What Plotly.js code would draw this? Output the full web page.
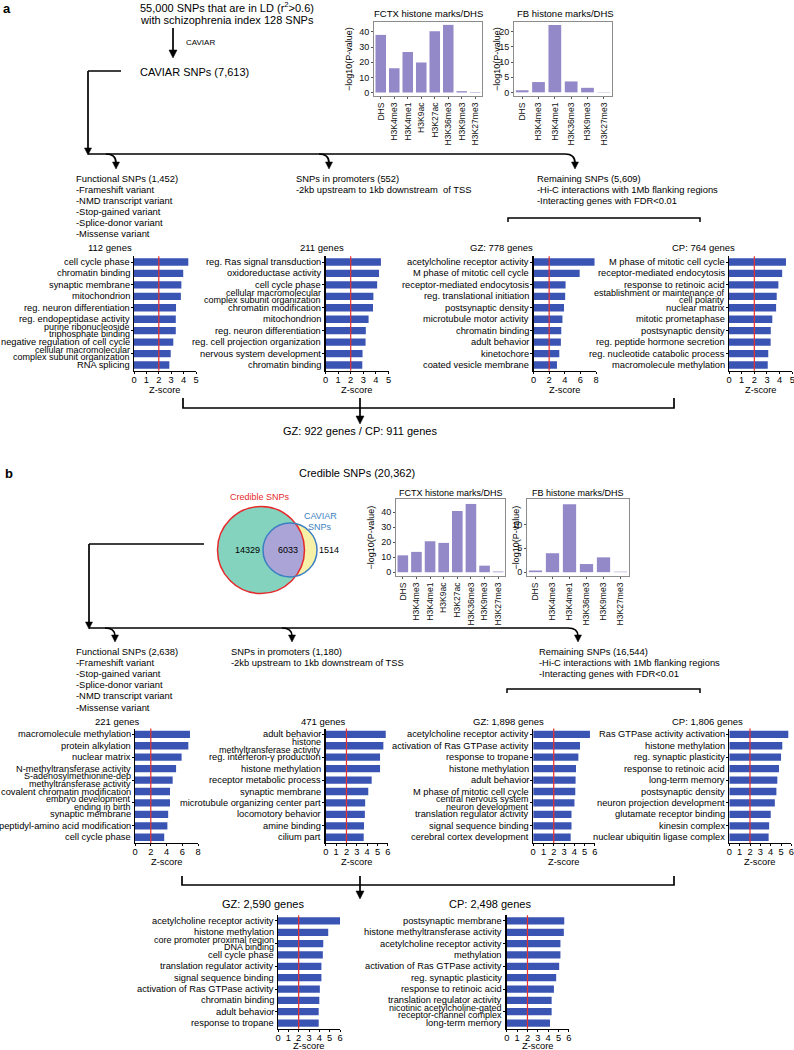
<!DOCTYPE html>
<html><head><meta charset="utf-8">
<script src="https://cdn.plot.ly/plotly-3.0.1.min.js"></script>
<style>html,body{margin:0;padding:0;background:#fff}#chart{width:794px;height:1050px}</style>
</head><body><div id="chart"></div>
<script>
// ---------------- DATA ----------------
const fctxMarks = ['DHS','H3K4me3','H3K4me1','H3K9ac','H3K27ac','H3K36me3','H3K9me3','H3K27me3'];
const fbMarks = ['DHS','H3K4me3','H3K4me1','H3K36me3','H3K9me3','H3K27me3'];
const caviarFctxLogP = [38, 16, 26.7, 19.8, 40.4, 44.6, 0.9, 0.3];
const caviarFbLogP = [0.7, 3.4, 22.2, 3.6, 1.5, 0.1];
const credibleFctxLogP = [11.3, 13.6, 20.7, 19.6, 40.9, 45.6, 4.4, 0.5];
const credibleFbLogP = [0.35, 3.96, 14.2, 1.7, 3.1, 0.1];

const caviarFunctionalTerms = ['cell cycle phase','chromatin binding','synaptic membrane','mitochondrion','reg. neuron differentiation','reg. endopeptidase activity','purine ribonucleoside<br>triphosphate binding','negative regulation of cell cycle','cellular macromolecular<br>complex subunit organization','RNA splicing'];
const caviarFunctionalZ = [4.38, 3.97, 3.82, 3.78, 3.39, 3.37, 3.37, 3.17, 2.96, 2.85];

const caviarPromoterTerms = ['reg. Ras signal transduction','oxidoreductase activity','cell cycle phase','cellular macromolecular<br>complex subunit organization','chromatin modification','mitochondrion','reg. neuron differentiation','reg. cell projection organization','nervous system development','chromatin binding'];
const caviarPromoterZ = [4.4, 4.25, 4.1, 3.8, 3.77, 3.42, 3.2, 3.18, 2.94, 2.92];

const caviarGzTerms = ['acetylcholine receptor activity','M phase of mitotic cell cycle','receptor-mediated endocytosis','reg. translational initiation','postsynaptic density','microtubule motor activity','chromatin binding','adult behavior','kinetochore','coated vesicle membrane'];
const caviarGzZ = [7.8, 5.9, 4.1, 4.05, 3.9, 3.7, 3.55, 3.5, 3.3, 3.0];

const caviarCpTerms = ['M phase of mitotic cell cycle','receptor-mediated endocytosis','response to retinoic acid','establishment or maintenance of<br>cell polarity','nuclear matrix','mitotic prometaphase','postsynaptic density','reg. peptide hormone secretion','reg. nucleotide catabolic process','macromolecule methylation'];
const caviarCpZ = [4.5, 4.2, 3.9, 3.77, 3.72, 3.42, 3.3, 3.29, 3.1, 3.06];

const credibleFunctionalTerms = ['macromolecule methylation','protein alkylation','nuclear matrix','N-methyltransferase activity','S-adenosylmethionine-dep<br>methyltransferase activity','covalent chromatin modification','embryo development<br>ending in birth','synaptic membrane','peptidyl-amino acid modification','cell cycle phase'];
const credibleFunctionalZ = [6.96, 6.75, 5.9, 5.2, 4.77, 4.43, 4.43, 4.2, 4.1, 3.7];

const crediblePromoterTerms = ['adult behavior','histone<br>methyltransferase activity','reg. interferon-γ production','histone methylation','receptor metabolic process','synaptic membrane','microtubule organizing center part','locomotory behavior','amine binding','cilium part'];
const crediblePromoterZ = [5.8, 5.57, 5.25, 5.25, 4.44, 4.11, 3.81, 3.78, 3.7, 3.67];

const credibleGzTerms = ['acetylcholine receptor activity','activation of Ras GTPase activity','response to tropane','histone methylation','adult behavior','M phase of mitotic cell cycle','central nervous system<br>neuron development','translation regulator activity','signal sequence binding','cerebral cortex development'];
const credibleGzZ = [5.53, 4.56, 4.4, 4.17, 4.13, 4.1, 4.02, 3.73, 3.73, 3.65];

const credibleCpTerms = ['Ras GTPase activity activation','histone methylation','reg. synaptic plasticity','response to retinoic acid','long-term memory','postsynaptic density','neuron projection development','glutamate receptor binding','kinesin complex','nuclear ubiquitin ligase complex'];
const credibleCpZ = [5.7, 5.12, 5.0, 4.8, 4.64, 4.55, 4.4, 4.0, 3.85, 3.8];

const combinedGzTerms = ['acetylcholine receptor activity','histone methylation','core promoter proximal region<br>DNA binding','cell cycle phase','translation regulator activity','signal sequence binding','activation of Ras GTPase activity','chromatin binding','adult behavior','response to tropane'];
const combinedGzZ = [6.05, 4.86, 4.38, 4.34, 4.2, 4.2, 4.05, 4.0, 3.94, 3.94];

const combinedCpTerms = ['postsynaptic membrane','histone methyltransferase activity','acetylcholine receptor activity','methylation','activation of Ras GTPase activity','reg. synaptic plasticity','response to retinoic acid','translation regulator activity','nicotinic acetylcholine-gated<br>receptor-channel complex','long-term memory'];
const combinedCpZ = [5.56, 5.52, 5.19, 5.19, 5.07, 4.78, 4.56, 4.34, 4.34, 4.18];

const zThreshold = 2;
const vennCounts = ['14329', '6033', '1514'];

// ---------------- LAYOUT HELPERS ----------------
const W = 794, H = 1050;
const px = v => v / W;
const py = v => 1 - v / H;
const FONT = 'Liberation Sans, Arial, Helvetica, sans-serif';
const BAR_BLUE = '#3a54b4';
const HIST_PURPLE = '#9489c8';
const RED = '#e8302c';

const data = [], shapes = [], annotations = [];
const layout = {
  width: W, height: H, margin: {l:0, r:0, t:0, b:0}, showlegend: false,
  paper_bgcolor: '#fff', plot_bgcolor: 'rgba(0,0,0,0)',
  font: {family: FONT, size: 9, color: '#000'},
  shapes, annotations
};

let axisIndex = 0;
function nextAxes() {
  axisIndex++;
  const s = axisIndex === 1 ? '' : String(axisIndex);
  return {xa: 'xaxis' + s, ya: 'yaxis' + s, x: 'x' + s, y: 'y' + s};
}

function txt(text, x, y, o = {}) {
  annotations.push({
    text, x: px(x), y: py(y), xref: 'paper', yref: 'paper', showarrow: false,
    xanchor: o.anchor || 'center', yanchor: 'middle', textangle: o.angle || 0,
    font: {size: o.size || 9.4, color: o.color || '#000', family: FONT},
    borderpad: 0
  });
}

const LABEL_LINE = 7.5;
function hPanel(p) {
  const a = nextAxes();
  layout[a.xa] = {
    domain: [px(p.left), px(p.right)], range: [0, p.xmax], dtick: p.dtick, tick0: 0,
    showline: true, linecolor: '#000', linewidth: 1.2, ticks: 'outside', ticklen: 2,
    tickwidth: 1, tickcolor: '#000', tickfont: {size: 9.3}, showgrid: false,
    zeroline: false, fixedrange: true, anchor: a.y, ticklabeloverflow: 'allow',
    ticklabelstandoff: -2
  };
  layout[a.ya] = {
    domain: [py(p.bottom), py(p.top)], type: 'category', categoryorder: 'array',
    categoryarray: p.terms, range: [p.terms.length - 0.5, -0.5],
    showline: true, linecolor: '#000', linewidth: 1.5, ticks: 'outside', ticklen: 2,
    tickcolor: '#000', showticklabels: false, showgrid: false, zeroline: false,
    fixedrange: true, anchor: a.x
  };
  data.push({type: 'bar', orientation: 'h', x: p.z, y: p.terms, xaxis: a.x, yaxis: a.y,
    width: 0.64, marker: {color: BAR_BLUE, line: {width: 0}}});
  // category labels on the category axis (tight line spacing for 2-line labels)
  p.terms.forEach((term, i) => {
    const lines = term.split('<br>');
    lines.forEach((ln, j) => {
      annotations.push({
        text: ln, xref: a.x + ' domain', x: 0, xanchor: 'right', xshift: -3.5,
        yref: a.y, y: i, yanchor: 'middle',
        yshift: ((lines.length - 1) / 2 - j) * LABEL_LINE,
        showarrow: false, borderpad: 0,
        font: {size: lines.length > 1 ? 9.0 : 9.3, color: '#000', family: FONT}
      });
    });
  });
  shapes.push({type: 'line', xref: a.x, yref: a.y + ' domain', x0: zThreshold, x1: zThreshold,
    y0: 0, y1: 1, line: {color: RED, width: 1.2}});
  txt('Z-score', (p.left + p.right) / 2, p.zy, {size: 9.3});
  txt(p.title, p.tx, p.ty, {size: p.tsize || 9.5});
}

function vPanel(p) {
  const a = nextAxes();
  layout[a.xa] = {
    domain: [px(p.left), px(p.right)], type: 'category', tickangle: -90,
    showline: true, mirror: true, linecolor: '#8c8c8c', linewidth: 1,
    ticks: 'outside', ticklen: 2, tickcolor: '#555', tickfont: {size: 8.6, color: '#111'},
    showgrid: false, zeroline: false, fixedrange: true, anchor: a.y
  };
  layout[a.ya] = {
    domain: [py(p.bottom), py(p.top)], range: p.yrange, tickvals: p.tickvals,
    showline: true, mirror: true, linecolor: '#8c8c8c', linewidth: 1,
    ticks: 'outside', ticklen: 2, tickcolor: '#555', tickfont: {size: 9, color: '#111'},
    showgrid: false, zeroline: false, fixedrange: true, anchor: a.x
  };
  data.push({type: 'bar', x: p.marks, y: p.values, xaxis: a.x, yaxis: a.y,
    width: 0.78, marker: {color: HIST_PURPLE, line: {width: 0}}});
  txt(p.title, p.tx, p.ty, {size: p.tsize || 9.5});
  txt('\u2212log10(P-value)', p.ytx, (p.top + p.bottom) / 2, {size: 9, angle: -90});
}

const LW = 1.7;
function line(x0, y0, x1, y1, w) {
  shapes.push({type: 'line', xref: 'paper', yref: 'paper', x0: px(x0), y0: py(y0), x1: px(x1), y1: py(y1),
    line: {color: '#000', width: w || LW}});
}
function pathPx(pts, close) {
  return pts.map((q, i) => (i ? 'L' : 'M') + px(q[0]).toFixed(5) + ',' + py(q[1]).toFixed(5)).join(' ') + (close ? ' Z' : '');
}
function arrowHead(x, yTip, s) {
  s = s || 7;
  shapes.push({type: 'path', xref: 'paper', yref: 'paper',
    path: pathPx([[x - s / 2, yTip - s], [x + s / 2, yTip - s], [x, yTip]], true),
    fillcolor: '#000', line: {color: '#000', width: 0.5}});
}
function curvedArrow(xTip, yLine, yTip) {
  const f = (x, y) => px(x).toFixed(5) + ',' + py(y).toFixed(5);
  shapes.push({type: 'path', xref: 'paper', yref: 'paper',
    path: 'M' + f(xTip - 10, yLine) + ' C' + f(xTip - 3, yLine) + ' ' + f(xTip, yLine + 3) + ' ' + f(xTip, yTip - 6),
    line: {color: '#000', width: LW}});
  arrowHead(xTip, yTip, 7);
}

// ---------------- SECTION a ----------------
txt('<b>a</b>', 2, 9, {anchor: 'left', size: 13});
txt('55,000 SNPs that are in LD (r<sup>2</sup>&gt;0.6)', 139, 7, {anchor: 'left', size: 11});
txt('with schizophrenia index 128 SNPs', 139, 20, {anchor: 'left', size: 11});
line(173, 28, 173, 52);
arrowHead(173, 58, 8);
txt('CAVIAR', 185, 42, {anchor: 'left', size: 8});
txt('CAVIAR SNPs (7,613)', 139, 72, {anchor: 'left', size: 11});
line(121, 71, 88, 71);
line(88, 71, 88, 149);
arrowHead(88, 155, 7);
line(88, 154, 565, 154);
curvedArrow(116, 154, 169);
curvedArrow(329, 154, 169);
curvedArrow(575, 154, 169);

vPanel({marks: fctxMarks, values: caviarFctxLogP, left: 374, right: 482, top: 22, bottom: 96,
  yrange: [-2.3, 46.5], tickvals: [0, 10, 20, 30, 40], title: 'FCTX histone marks/DHS', tx: 428, ty: 14, ytx: 349});
vPanel({marks: fbMarks, values: caviarFbLogP, left: 514, right: 612, top: 22, bottom: 96,
  yrange: [-1.2, 23.2], tickvals: [0, 5, 10, 15, 20], title: 'FB histone marks/DHS', tx: 565, ty: 14, ytx: 497});

const aFunc = ['Functional SNPs (1,452)', '-Frameshift variant', '-NMD transcript variant', '-Stop-gained variant', '-Splice-donor variant', '-Missense variant'];
aFunc.forEach((t, i) => txt(t, 75, 178 + i * 11.1, {anchor: 'left'}));
txt('SNPs in promoters (552)', 295, 178, {anchor: 'left'});
txt('-2kb upstream to 1kb downstream  of TSS', 295, 189.1, {anchor: 'left'});
['Remaining SNPs (5,609)', '-Hi-C interactions with 1Mb flanking regions', '-Interacting genes with FDR&lt;0.01']
  .forEach((t, i) => txt(t, 536, 178 + i * 11.1, {anchor: 'left'}));
shapes.push({type: 'path', xref: 'paper', yref: 'paper', path: pathPx([[508, 222], [508, 218], [700, 218], [700, 222]]), line: {color: '#000', width: 1.5}});

hPanel({terms: caviarFunctionalTerms, z: caviarFunctionalZ, left: 134, right: 196, top: 256.3, bottom: 370.7, xmax: 5, dtick: 1, title: '112 genes', tx: 110, ty: 247, zy: 390});
hPanel({terms: caviarPromoterTerms, z: caviarPromoterZ, left: 325.5, right: 388.5, top: 256.3, bottom: 370.7, xmax: 5, dtick: 1, title: '211 genes', tx: 322, ty: 247, zy: 390});
hPanel({terms: caviarGzTerms, z: caviarGzZ, left: 533.5, right: 596.1, top: 256.3, bottom: 370.7, xmax: 8, dtick: 2, title: 'GZ: 778 genes', tx: 501, ty: 247, zy: 390});
hPanel({terms: caviarCpTerms, z: caviarCpZ, left: 729, right: 792.3, top: 256.3, bottom: 370.7, xmax: 5, dtick: 1, title: 'CP: 764 genes', tx: 703, ty: 247, zy: 390});

shapes.push({type: 'path', xref: 'paper', yref: 'paper', path: pathPx([[183, 398], [183, 408], [674, 408], [674, 398]]), line: {color: '#000', width: LW}});
line(360, 398, 360, 417);
arrowHead(360, 424, 8);
txt('GZ: 922 genes / CP: 911 genes', 360, 431, {size: 11});

// ---------------- SECTION b ----------------
txt('<b>b</b>', 4, 473, {anchor: 'left', size: 13});
txt('Credible SNPs (20,362)', 357, 473, {size: 11});

// Venn diagram
const bigC = {cx: 261, cy: 550, r: 43.5};
const smallC = {cx: 290, cy: 550, r: 27};
function circle(c, fill, lineColor, lw) {
  shapes.push({type: 'circle', xref: 'paper', yref: 'paper',
    x0: px(c.cx - c.r), x1: px(c.cx + c.r), y0: py(c.cy + c.r), y1: py(c.cy - c.r),
    fillcolor: fill, line: {color: lineColor, width: lw}});
}
circle(bigC, '#84d3bf', 'rgba(0,0,0,0)', 0);
circle(smallC, '#f7f1a8', 'rgba(0,0,0,0)', 0);
(function lens() {
  const d = smallC.cx - bigC.cx;
  const a = (d * d + bigC.r * bigC.r - smallC.r * smallC.r) / (2 * d);
  const h = Math.sqrt(bigC.r * bigC.r - a * a);
  const ix = bigC.cx + a;
  const angS = Math.atan2(-h, ix - smallC.cx);
  const angB = Math.atan2(h, ix - bigC.cx);
  const pts = [];
  const N = 40;
  for (let i = 0; i <= N; i++) {
    const t = angS - i / N * (2 * Math.PI + 2 * angS);
    pts.push([smallC.cx + smallC.r * Math.cos(t), smallC.cy + smallC.r * Math.sin(t)]);
  }
  for (let i = 0; i <= N; i++) {
    const t = angB - i / N * (2 * angB);
    pts.push([bigC.cx + bigC.r * Math.cos(t), bigC.cy + bigC.r * Math.sin(t)]);
  }
  shapes.push({type: 'path', xref: 'paper', yref: 'paper', path: pathPx(pts, true),
    fillcolor: '#aba4d6', line: {width: 0, color: 'rgba(0,0,0,0)'}});
})();
circle(bigC, 'rgba(0,0,0,0)', '#e62a2c', 1.5);
circle(smallC, 'rgba(0,0,0,0)', '#3c7fc3', 1.5);
txt('Credible SNPs', 260, 497, {size: 9, color: '#e62a2c'});
txt('CAVIAR', 320, 516, {size: 9, color: '#3c7fc3'});
txt('SNPs', 320, 527, {size: 9, color: '#3c7fc3'});
txt(vennCounts[0], 247, 550, {size: 9});
txt(vennCounts[1], 288, 550, {size: 9});
txt(vennCounts[2], 329, 550, {size: 9});

vPanel({marks: fctxMarks, values: credibleFctxLogP, left: 396, right: 505, top: 499, bottom: 576,
  yrange: [-2.5, 48.9], tickvals: [0, 10, 20, 30, 40], title: 'FCTX histone marks/DHS', tx: 451, ty: 493, ytx: 370, tsize: 9});
vPanel({marks: fbMarks, values: credibleFbLogP, left: 527, right: 629, top: 499, bottom: 576,
  yrange: [-0.8, 15.3], tickvals: [0, 5, 10], title: 'FB histone marks/DHS', tx: 578, ty: 493, ytx: 515, tsize: 9});

line(204, 544, 89, 544);
line(89, 544, 89, 623);
arrowHead(89, 629, 7);
line(89, 628, 568, 628);
curvedArrow(115, 628, 642);
curvedArrow(292, 628, 642);
curvedArrow(578, 628, 642);

const bFunc = ['Functional SNPs (2,638)', '-Frameshift variant', '-Stop-gained variant', '-Splice-donor variant', '-NMD transcript variant', '-Missense variant'];
bFunc.forEach((t, i) => txt(t, 75, 651 + i * 11.2, {anchor: 'left'}));
txt('SNPs in promoters (1,180)', 230, 651, {anchor: 'left'});
txt('-2kb upstream to 1kb downstream of TSS', 230, 662.2, {anchor: 'left'});
['Remaining SNPs (16,544)', '-Hi-C interactions with 1Mb flanking regions', '-Interacting genes with FDR&lt;0.01']
  .forEach((t, i) => txt(t, 538, 651 + i * 11.2, {anchor: 'left'}));
shapes.push({type: 'path', xref: 'paper', yref: 'paper', path: pathPx([[507, 693], [507, 689], [700, 689], [700, 693]]), line: {color: '#000', width: 1.5}});

hPanel({terms: credibleFunctionalTerms, z: credibleFunctionalZ, left: 135, right: 198.2, top: 728.6, bottom: 843, xmax: 8, dtick: 2, title: '221 genes', tx: 117, ty: 721, zy: 862});
hPanel({terms: crediblePromoterTerms, z: crediblePromoterZ, left: 325.8, right: 387.8, top: 728.6, bottom: 843, xmax: 6, dtick: 1, title: '471 genes', tx: 323, ty: 721, zy: 862});
hPanel({terms: credibleGzTerms, z: credibleGzZ, left: 533.2, right: 594.8, top: 728.6, bottom: 843, xmax: 6, dtick: 1, title: 'GZ: 1,898 genes', tx: 508, ty: 721, zy: 862});
hPanel({terms: credibleCpTerms, z: credibleCpZ, left: 729.3, right: 791.4, top: 728.6, bottom: 843, xmax: 6, dtick: 1, title: 'CP: 1,806 genes', tx: 707, ty: 721, zy: 862});

shapes.push({type: 'path', xref: 'paper', yref: 'paper', path: pathPx([[182, 876], [182, 885], [674, 885], [674, 876]]), line: {color: '#000', width: LW}});
line(360, 876, 360, 893);
arrowHead(360, 899, 8);

hPanel({terms: combinedGzTerms, z: combinedGzZ, left: 278, right: 340, top: 915.3, bottom: 1028.7, xmax: 6, dtick: 1, title: 'GZ: 2,590 genes', tx: 263, ty: 904, tsize: 11, zy: 1046});
hPanel({terms: combinedCpTerms, z: combinedCpZ, left: 506.8, right: 568.8, top: 915.3, bottom: 1028.7, xmax: 6, dtick: 1, title: 'CP: 2,498 genes', tx: 490, ty: 904, tsize: 11, zy: 1046});

Plotly.newPlot('chart', data, layout, {staticPlot: true, displayModeBar: false});
</script>
</body></html>
